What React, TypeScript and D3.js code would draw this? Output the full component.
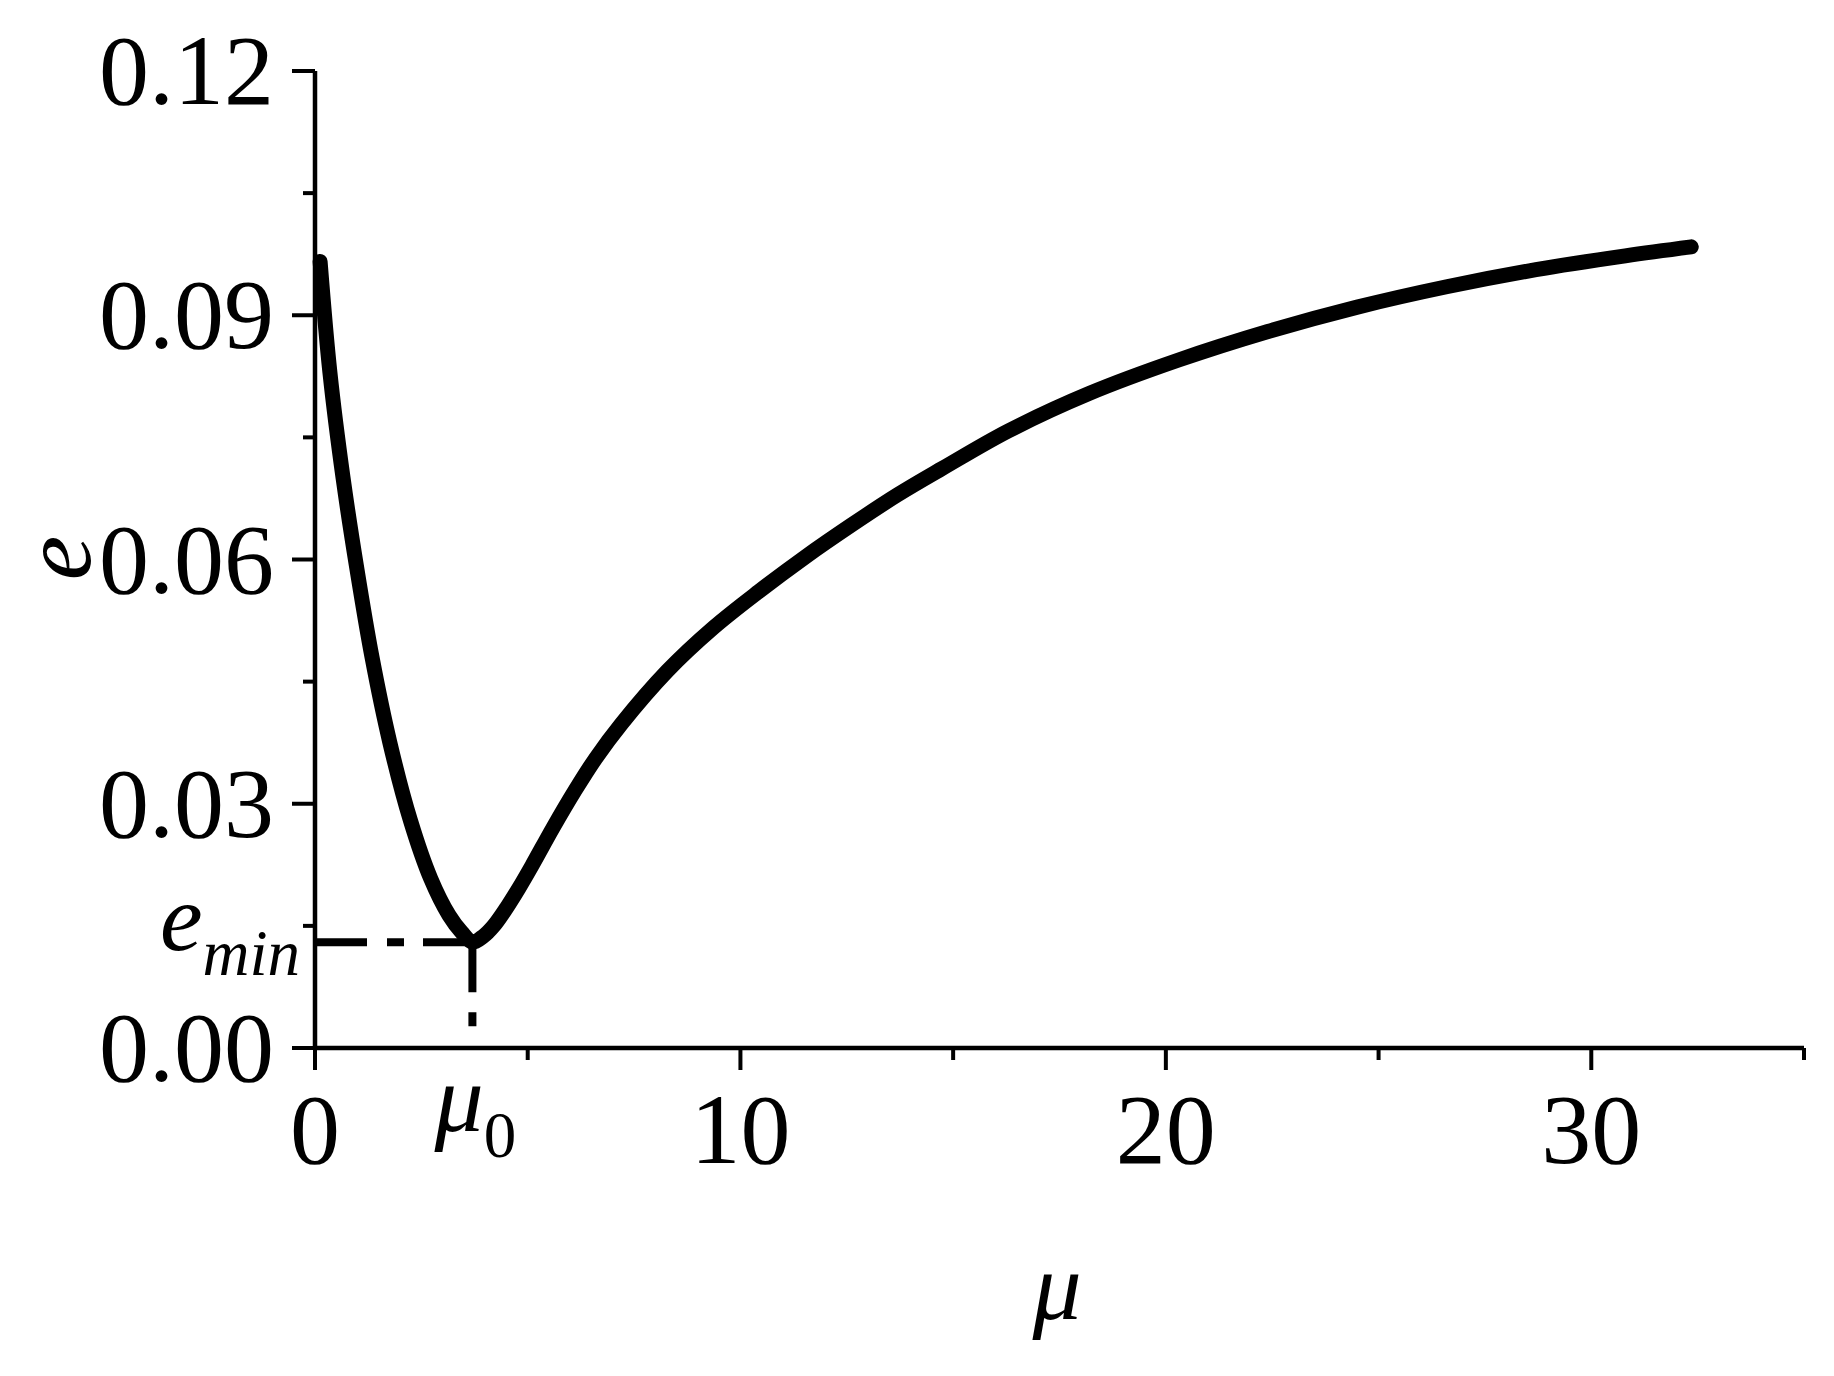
import React from "react";
import * as d3 from "d3";

// ---- data ----
const muValues = [0.12, 0.35, 0.66, 0.98, 1.34, 1.76, 2.24, 2.72, 3.15, 3.45, 3.7, 3.95, 4.2, 4.5, 4.8, 5.1, 5.6, 6.12, 6.6, 7.2, 8.28, 9.36, 10.44, 11.52, 12.6, 13.68, 14.75, 16.3, 18.2, 20.3, 22.4, 24.5, 26.6, 28.7, 30.8, 32.35];
const eValues = [0.0966, 0.083, 0.07, 0.059, 0.048, 0.0375, 0.028, 0.0208, 0.0163, 0.0142, 0.013, 0.0137, 0.015, 0.0172, 0.0197, 0.0224, 0.0271, 0.0317, 0.0356, 0.0398, 0.0463, 0.0516, 0.0561, 0.0603, 0.0642, 0.0679, 0.0712, 0.0758, 0.0804, 0.0845, 0.088, 0.091, 0.0935, 0.0956, 0.0973, 0.0984];

const xMajorTicks = [0, 10, 20, 30];
const xMinorTicks = [5, 15, 25, 35];
const yMajorTicks = [0, 0.03, 0.06, 0.09, 0.12];
const yMinorTicks = [0.015, 0.045, 0.075, 0.105];
const yTickLabels = ["0.00", "0.03", "0.06", "0.09", "0.12"];
const xTickLabels = ["0", "10", "20", "30"];

const mu0 = 3.7;
const eMin = 0.013;
const eDropEnd = 0.0025;

const xTitle = "μ";
const yTitle = "e";

const FONT = "'Liberation Serif', 'Times New Roman', serif";

export default function App() {
  const x = d3.scaleLinear().domain([0, 35]).range([315, 1804]);
  const y = d3.scaleLinear().domain([0, 0.12]).range([1048, 71]);

  const pts = muValues.map((m, i) => [m, eValues[i]] as [number, number]);
  const line = d3
    .line<[number, number]>()
    .x((d) => x(d[0]))
    .y((d) => y(d[1]))
    .curve(d3.curveCatmullRom.alpha(0.5));

  const x0 = x(0);
  const y0 = y(0);

  return (
    <svg
      width={1834}
      height={1376}
      style={{ position: "absolute", left: 0, top: 0, background: "#fff", fontFamily: FONT }}
    >
      <rect x={0} y={0} width={1834} height={1376} fill="#fff" />

      {/* axes lines */}
      <line x1={x0} y1={y(0.12)} x2={x0} y2={y0} stroke="#000" strokeWidth={4.5} />
      <line x1={x0} y1={y0} x2={x(35)} y2={y0} stroke="#000" strokeWidth={4.5} />

      {/* y ticks */}
      {yMajorTicks.map((t) => (
        <line key={"ym" + t} x1={x0 - 23} x2={x0} y1={y(t)} y2={y(t)} stroke="#000" strokeWidth={4} />
      ))}
      {yMinorTicks.map((t) => (
        <line key={"yn" + t} x1={x0 - 12} x2={x0} y1={y(t)} y2={y(t)} stroke="#000" strokeWidth={4} />
      ))}
      {yMajorTicks.map((t, i) => (
        <text key={"yl" + t} x={x0 - 41} y={y(t) + 33} textAnchor="end" fontSize={100} fill="#000">
          {yTickLabels[i]}
        </text>
      ))}

      {/* x ticks */}
      {xMajorTicks.map((t) => (
        <line key={"xm" + t} x1={x(t)} x2={x(t)} y1={y0} y2={y0 + 22} stroke="#000" strokeWidth={4} />
      ))}
      {xMinorTicks.map((t) => (
        <line key={"xn" + t} x1={x(t)} x2={x(t)} y1={y0} y2={y0 + 12} stroke="#000" strokeWidth={4} />
      ))}
      {xMajorTicks.map((t, i) => (
        <text key={"xl" + t} x={x(t)} y={y0 + 115} textAnchor="middle" fontSize={100} fill="#000">
          {xTickLabels[i]}
        </text>
      ))}

      {/* mu0 label */}
      <text x={x(mu0) + 3} y={1131} textAnchor="middle" fill="#000">
        <tspan fontSize={98} fontStyle="italic">μ</tspan>
        <tspan fontSize={65} dy={26}>0</tspan>
      </text>

      {/* e_min label */}
      <text x={300} y={950} textAnchor="end" fill="#000" fontStyle="italic">
        <tspan fontSize={96}>e</tspan>
        <tspan fontSize={65} dy={25}>min</tspan>
      </text>

      {/* dash-dot guides */}
      <line
        x1={x0}
        x2={x(mu0)}
        y1={y(eMin)}
        y2={y(eMin)}
        stroke="#000"
        strokeWidth={8}
        strokeDasharray="52 20 17 19"
      />
      <line
        x1={x(mu0)}
        x2={x(mu0)}
        y1={y(eMin)}
        y2={y(eDropEnd)}
        stroke="#000"
        strokeWidth={8}
        strokeDasharray="50 20 14 20"
      />

      {/* curve */}
      <path d={line(pts) || ""} fill="none" stroke="#000" strokeWidth={15} strokeLinecap="round" strokeLinejoin="round" />

      {/* axis titles */}
      <text x={1057} y={1319} textAnchor="middle" fontSize={98} fontStyle="italic" fill="#000">
        {xTitle}
      </text>
      <text transform="translate(90,558) rotate(-90)" textAnchor="middle" fontSize={100} fontStyle="italic" fill="#000">
        {yTitle}
      </text>
    </svg>
  );
}
